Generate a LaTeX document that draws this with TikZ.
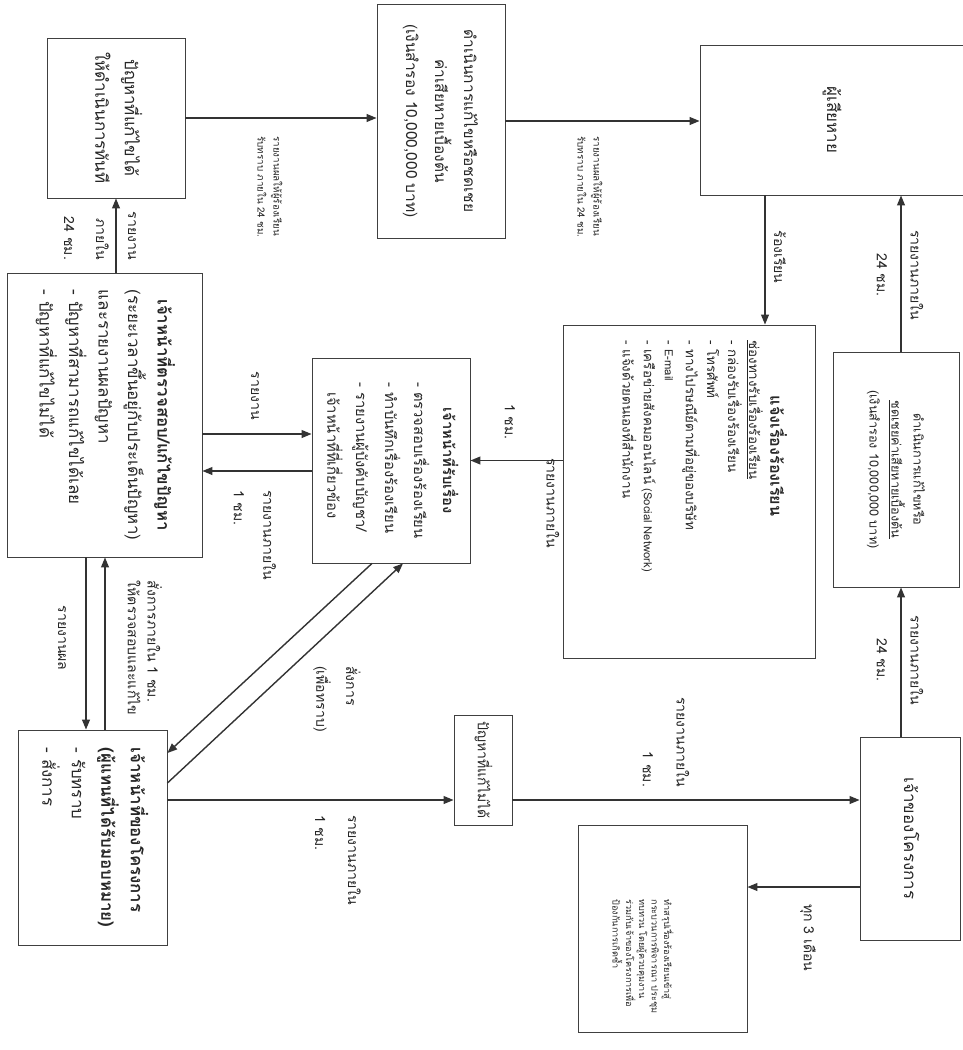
\documentclass[tikz,border=0pt]{standalone}
\usepackage{fontspec}
\setmainfont[Script=Thai]{Loma}
\usepackage{graphicx}
\usetikzlibrary{arrows.meta, positioning}

\newcommand{\px}{0.025cm}
\newcommand{\fs}[2]{\fontsize{#1}{#2}\selectfont}
\newcommand{\rottext}[2][c]{\rotatebox{-90}{\begin{tabular}{@{}#1@{}}#2\end{tabular}}}
\newcommand{\latin}[1]{{\fontsize{8}{15}\selectfont #1}}

\begin{document}
\begin{tikzpicture}[
    x=\px, y=-\px,
    box/.style={draw=black!75, line width=0.6pt, inner sep=2pt, text=black!85, font=\fs{12}{21}},
    sz/.style 2 args={minimum width=#1*\px, minimum height=#2*\px},
    lbl/.style={inner sep=0pt, text=black!85, font=\fs{10}{18}, rotate=-90},
    arr/.style={-{Triangle[length=7pt, width=5.5pt]}, line width=1pt, draw=black!80},
]
\useasboundingbox (0,0) rectangle (962,1050);

% boxes
\node[box, sz={138}{160}] (fixnow) at (116,118) {\rottext{ปัญหาที่แก้ไขได้\\ให้ดำเนินการทันที}};
\node[box, sz={128}{234}, font=\fs{11}{20.6}] (comp1) at (441,121) {\rottext{ดำเนินการแก้ไขหรือชดเชย\\ค่าเสียหายเบื้องต้น\\(เงินสำรอง 10,000,000 บาท)}};
\node[box, sz={266}{150}] (victim) at (833,120) {\rottext{ผู้เสียหาย}};
\node[box, sz={195}{284}] (chk) at (104.5,415) {\rottext[l]{\multicolumn{1}{@{}c@{}}{\textbf{เจ้าหน้าที่ตรวจสอบ/แก้ไขปัญหา}}\\\multicolumn{1}{@{}c@{}}{(ระยะเวลาขึ้นอยู่กับประเด็นปัญหา)}\\และรายงานผลปัญหา\\- ปัญหาที่สามารถแก้ไขได้เลย\\- ปัญหาที่แก้ไขไม่ได้}};
\node[box, sz={158}{205}, font=\fs{10.5}{20.6}] (recv) at (391,460.5) {\rottext[l]{\multicolumn{1}{@{}c@{}}{\textbf{เจ้าหน้าที่รับเรื่อง}}\\- ตรวจสอบเรื่องร้องเรียน\\- ทำบันทึกเรื่องร้องเรียน\\- รายงานผู้บังคับบัญชา/\\\phantom{- }เจ้าหน้าที่ที่เกี่ยวข้อง}};
\node[box, sz={252}{333}, font=\fs{9.5}{15}] (complain) at (689,491.5) {\rotatebox{-90}{\makebox[7.55cm][l]{\begin{tabular}{@{}l@{}}\multicolumn{1}{@{}c@{}}{\fs{11.5}{15}\textbf{แจ้งเรื่องร้องเรียน}}\\\underline{ช่องทางรับเรื่องร้องเรียน}\\- กล่องรับเรื่องร้องเรียน\\- โทรศัพท์\\- ทางไปรษณีย์ตามที่อยู่ของบริษัท\\- \latin{E-mail}\\- เครือข่ายสังคมออนไลน์ \latin{(Social Network)}\\- แจ้งด้วยตนเองที่สำนักงาน\\[18pt]\end{tabular}}}};
\node[box, sz={126}{235}, font=\fs{9}{15.6}] (comp2) at (896,469.5) {\rottext{ดำเนินการแก้ไขหรือ\\\underline{ชดเชยค่าเสียหายเบื้องต้น}\\(เงินสำรอง 10,000,000 บาท)}};
\node[box, sz={149}{215}] (ownstaff) at (92.5,837.5) {\rottext[l]{\textbf{เจ้าหน้าที่ของโครงการ}\\\textbf{(ผู้แทนที่ได้รับมอบหมาย)}\\- รับทราบ\\- สั่งการ}};
\node[box, sz={58}{110}, font=\fs{10}{18}] (unsolved) at (483,770) {\rottext{ปัญหาที่แก้ไม่ได้}};
\node[box, sz={100}{203}] (owner) at (910,838.5) {\rottext{เจ้าของโครงการ}};
\node[box, sz={169}{207}, font=\fs{6.5}{8.9}] (review) at (662.5,928.5) {\rotatebox{-90}{\hspace{1.4cm}\begin{tabular}{@{}l@{}}\rule{0pt}{37pt}ทำสรุปเรื่องร้องเรียนเข้าสู่\\กระบวนการพิจารณา ประชุม\\ทบทวน โดยผู้ควบคุมงาน\\ร่วมกับเจ้าของโครงการเพื่อ\\ป้องกันการเกิดซ้ำ\end{tabular}}};

% where the connectors run
\coordinate (l4) at (765,0);
\coordinate (l5) at (901,0);
\coordinate (l8) at (0,434);
\coordinate (l9) at (0,471);
\coordinate (l10) at (86,0);
\coordinate (l11) at (105,0);
\coordinate (l14) at (0,800);
\coordinate (l16) at (0,887);
\coordinate (d1) at (372,0);
\coordinate (d2) at (0,753);
\coordinate (d3) at (0,783);
\coordinate (d4) at (403,0);

% connectors
\draw[arr] (chk.north -| fixnow) -- (fixnow.south);
\draw[arr] (fixnow.east) -- (comp1.west |- fixnow.east);
\draw[arr] (comp1.east) -- (victim.west |- comp1.east);
\draw[arr] (victim.south -| l4) -- (complain.north -| l4);
\draw[arr] (comp2.north -| l5) -- (victim.south -| l5);
\draw[arr] (owner.north -| l5) -- (comp2.south -| l5);
\draw[arr] (complain.west |- recv) -- (recv.east);
\draw[arr] (chk.east |- l8) -- (recv.west |- l8);
\draw[arr] (recv.west |- l9) -- (chk.east |- l9);
\draw[arr] (chk.south -| l10) -- (ownstaff.north -| l10);
\draw[arr] (ownstaff.north -| l11) -- (chk.south -| l11);
\draw[arr] (recv.south -| d1) -- (ownstaff.east |- d2);
\draw[arr] (ownstaff.east |- d3) -- (recv.south -| d4);
\draw[arr] (ownstaff.east |- l14) -- (unsolved.west |- l14);
\draw[arr] (unsolved.east |- l14) -- (owner.west |- l14);
\draw[arr] (owner.west |- l16) -- (review.east |- l16);

% labels
\node[lbl, align=right, font=\fs{10}{22.8}] (t1) at (100,236) {รายงาน\\ภายใน\\24 ชม.};
\node[lbl, align=left, font=\fs{7}{11.4}] (t2) at (270,187) {รายงานผลให้ผู้ร้องเรียน\\รับทราบ ภายใน 24 ชม.};
\node[lbl, align=left, font=\fs{7}{11.4}] (t3) at (590,187) {รายงานผลให้ผู้ร้องเรียน\\รับทราบ ภายใน 24 ชม.};
\node[lbl] (t4) at (780,257) {ร้องเรียน};
\node[lbl, align=center, font=\fs{10}{24}] (t5) at (900,275) {รายงานภายใน\\24 ชม.};
\node[lbl, align=center, font=\fs{10}{24}] (t6) at (900,660) {รายงานภายใน\\24 ชม.};
\node[lbl] (t7a) at (553,503) {รายงานภายใน};
\node[lbl] (t7b) at (510,422) {1 ชม.};
\node[lbl] (t8) at (255,396) {รายงาน};
\node[lbl, align=left, font=\fs{10}{21}] (t9) at (255,535) {รายงานภายใน\\1 ชม.};
\node[lbl] (t10) at (62,638) {รายงานผล};
\node[lbl, align=left, font=\fs{10}{14}] (t11) at (145,648) {สั่งการภายใน 1 ชม.\\ให้ตรวจสอบและแก้ไข};
\node[lbl, align=left, font=\fs{10}{21}] (t12) at (337,699) {สั่งการ\\(เพื่อทราบ)};
\node[lbl, align=left, font=\fs{10}{23.5}] (t14) at (338,860) {รายงานภายใน\\1 ชม.};
\node[lbl, align=right, font=\fs{10}{24}] (t15) at (666,742) {รายงานภายใน\\1 ชม.};
\node[lbl] (t16) at (808,938) {ทุก 3 เดือน};
\end{tikzpicture}
\end{document}
